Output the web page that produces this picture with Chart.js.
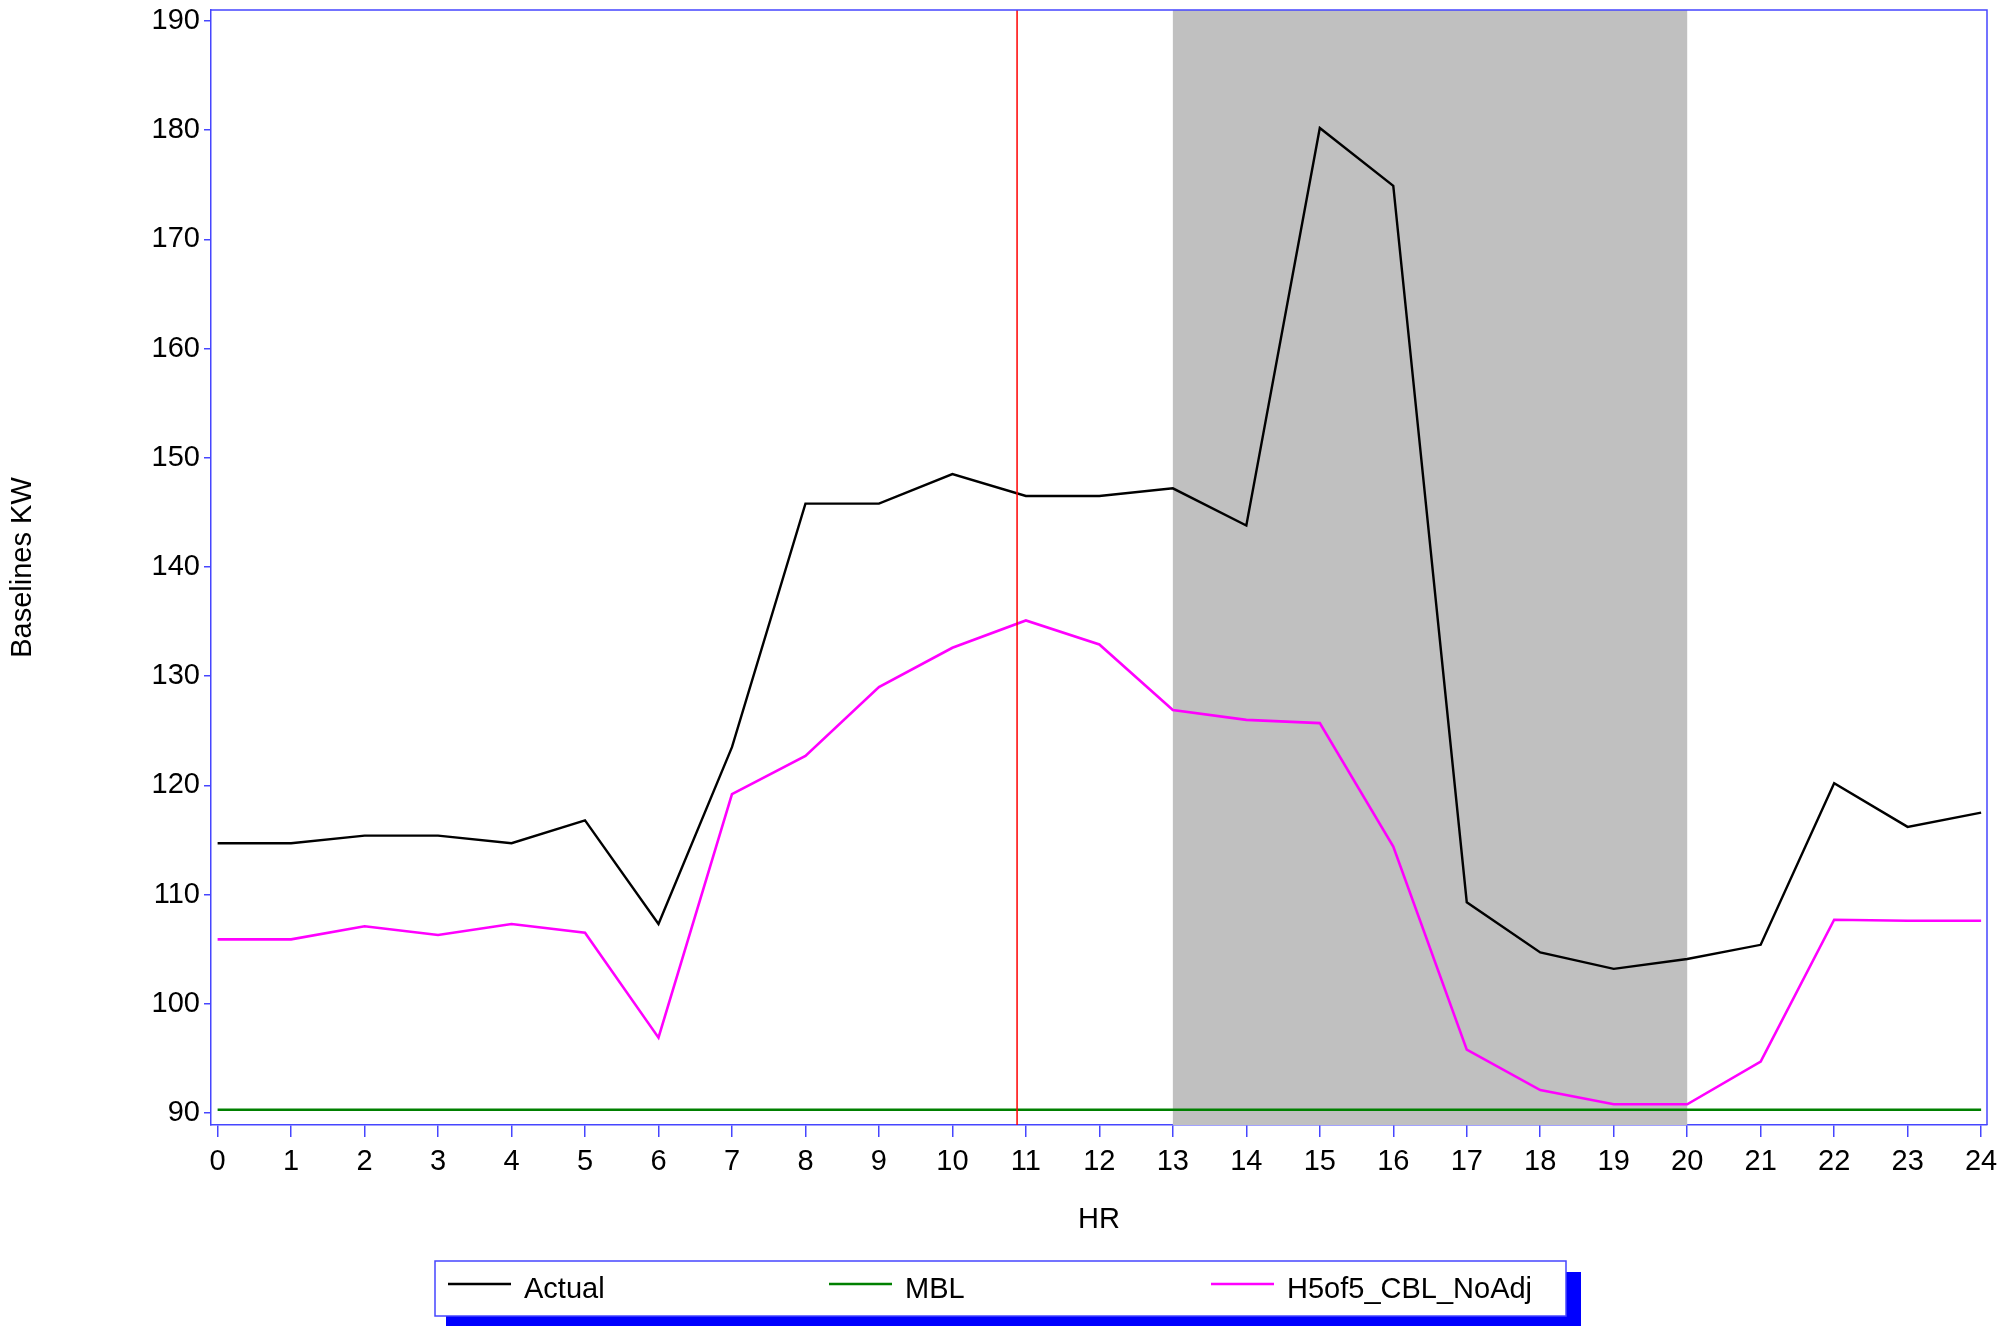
<!DOCTYPE html>
<html>
<head>
<meta charset="utf-8">
<script src="https://cdn.jsdelivr.net/npm/chart.js@4.4.1/dist/chart.umd.min.js"></script>
<style>
  html, body { margin: 0; padding: 0; background: #ffffff; }
  #wrap { width: 2016px; height: 1326px; position: relative; }
</style>
</head>
<body>
<div id="wrap"><canvas id="c" width="2016" height="1326"></canvas></div>
<script>
// ---- Data ----
const hours = [0,1,2,3,4,5,6,7,8,9,10,11,12,13,14,15,16,17,18,19,20,21,22,23,24];
const actual = [114.7,114.7,115.4,115.4,114.7,116.8,107.3,123.5,145.8,145.8,148.5,146.5,146.5,147.2,143.8,180.2,174.9,109.3,104.7,103.2,104.1,105.4,120.2,116.2,117.5];
const mbl = [90.3,90.3,90.3,90.3,90.3,90.3,90.3,90.3,90.3,90.3,90.3,90.3,90.3,90.3,90.3,90.3,90.3,90.3,90.3,90.3,90.3,90.3,90.3,90.3,90.3];
const cbl = [105.9,105.9,107.1,106.3,107.3,106.5,96.9,119.2,122.7,129.0,132.6,135.1,132.9,126.9,126.0,125.7,114.4,95.8,92.1,90.8,90.8,94.7,107.7,107.6,107.6];
const seriesNames = ["Actual", "MBL", "H5of5_CBL_NoAdj"];
const xTicks = [0,1,2,3,4,5,6,7,8,9,10,11,12,13,14,15,16,17,18,19,20,21,22,23,24];
const yTicks = [90,100,110,120,130,140,150,160,170,180,190];
const shadeStart = 13;
const shadeEnd = 20;
const refLineHour = 10.88;

// ---- Styling ----
const FONT = "'Liberation Sans', Arial, sans-serif";
const FSIZE = 29;
const AXIS_BLUE = 'rgb(70,70,255)';

function toPts(arr) { return hours.map((h, i) => ({ x: h, y: arr[i] })); }

const bandPlugin = {
  id: 'band',
  beforeDatasetsDraw(chart) {
    const { ctx, chartArea, scales } = chart;
    const x1 = scales.x.getPixelForValue(shadeStart);
    const x2 = scales.x.getPixelForValue(shadeEnd);
    ctx.save();
    ctx.fillStyle = '#C0C0C0';
    ctx.fillRect(x1, chartArea.top, x2 - x1, chartArea.bottom - chartArea.top);
    ctx.restore();
  },
  afterDatasetsDraw(chart) {
    const { ctx, chartArea, scales } = chart;
    const xr = scales.x.getPixelForValue(refLineHour);
    ctx.save();
    ctx.strokeStyle = '#FF0000';
    ctx.lineWidth = 1.5;
    ctx.beginPath();
    ctx.moveTo(xr, chartArea.top);
    ctx.lineTo(xr, chartArea.bottom);
    ctx.stroke();
    // frame (top + right)
    ctx.strokeStyle = AXIS_BLUE;
    ctx.lineWidth = 1.5;
    ctx.beginPath();
    ctx.moveTo(chartArea.left, chartArea.top);
    ctx.lineTo(chartArea.right, chartArea.top);
    ctx.lineTo(chartArea.right, chartArea.bottom);
    ctx.stroke();
    ctx.restore();
  },
  afterDraw(chart) {
    const { ctx } = chart;
    ctx.save();
    // legend shadow
    ctx.fillStyle = '#0000FF';
    ctx.fillRect(446, 1272, 1135, 60);
    // legend box
    ctx.fillStyle = '#FFFFFF';
    ctx.fillRect(435, 1261, 1131, 55);
    ctx.strokeStyle = AXIS_BLUE;
    ctx.lineWidth = 1.5;
    ctx.strokeRect(435, 1261, 1131, 55);
    const itemX = [448, 829, 1211];
    ctx.font = FSIZE + 'px ' + FONT;
    ctx.textBaseline = 'alphabetic';
    ctx.textAlign = 'left';
    chart.data.datasets.forEach((ds, i) => {
      ctx.strokeStyle = ds.borderColor;
      ctx.lineWidth = 2.4;
      ctx.beginPath();
      ctx.moveTo(itemX[i], 1284);
      ctx.lineTo(itemX[i] + 63, 1284);
      ctx.stroke();
      ctx.fillStyle = '#000000';
      ctx.fillText(ds.label, itemX[i] + 76, 1298);
    });
    ctx.restore();
  }
};

new Chart(document.getElementById('c'), {
  type: 'line',
  data: {
    datasets: [
      { label: seriesNames[0], data: toPts(actual), borderColor: '#000000', borderWidth: 2.4, pointRadius: 0, tension: 0, fill: false },
      { label: seriesNames[1], data: toPts(mbl), borderColor: '#008000', borderWidth: 2.6, pointRadius: 0, tension: 0, fill: false },
      { label: seriesNames[2], data: toPts(cbl), borderColor: '#FF00FF', borderWidth: 2.6, pointRadius: 0, tension: 0, fill: false }
    ]
  },
  options: {
    responsive: false,
    devicePixelRatio: 1,
    animation: false,
    layout: { padding: { left: 0, right: 29, top: 10, bottom: 0 } },
    plugins: { legend: { display: false }, tooltip: { enabled: false } },
    scales: {
      x: {
        type: 'linear',
        min: -0.09,
        max: 24.08,
        afterBuildTicks: s => { s.ticks = xTicks.map(v => ({ value: v })); },
        afterFit: s => { s.height = 201; s.paddingLeft = 0; s.paddingRight = 0; },
        grid: { display: true, drawOnChartArea: false, drawTicks: true, tickLength: 12, color: AXIS_BLUE, lineWidth: 1.5 },
        border: { display: true, color: AXIS_BLUE, width: 1.5 },
        ticks: { color: '#000000', font: { family: FONT, size: FSIZE }, padding: 8, maxRotation: 0, autoSkip: false },
        title: { display: true, text: 'HR', color: '#000000', font: { family: FONT, size: FSIZE }, padding: { top: 0, bottom: 89 } }
      },
      y: {
        type: 'linear',
        min: 88.9,
        max: 191.0,
        afterBuildTicks: s => { s.ticks = yTicks.map(v => ({ value: v })); },
        afterFit: s => { s.width = 211; s.paddingTop = 0; s.paddingBottom = 0; },
        grid: { display: true, drawOnChartArea: false, drawTicks: true, tickLength: 7, color: AXIS_BLUE, lineWidth: 1.5 },
        border: { display: true, color: AXIS_BLUE, width: 1.5 },
        ticks: { color: '#000000', font: { family: FONT, size: FSIZE }, padding: 4, autoSkip: false },
        title: { display: true, text: 'Baselines KW', color: '#000000', font: { family: FONT, size: FSIZE }, padding: { top: 6, bottom: 0 } }
      }
    }
  },
  plugins: [bandPlugin]
});
</script>
</body>
</html>
